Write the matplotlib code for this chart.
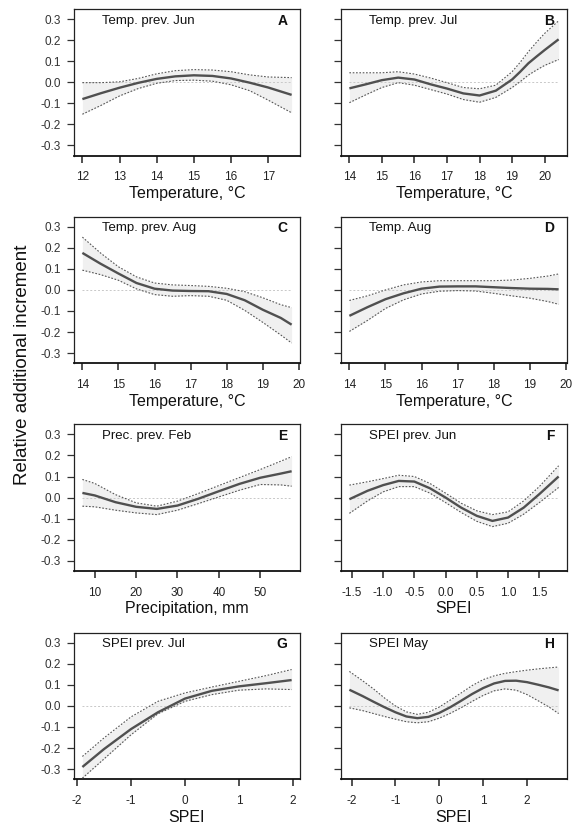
import matplotlib
matplotlib.use("Agg")
import matplotlib.pyplot as plt

plt.rcParams['font.family'] = ['Liberation Sans', 'DejaVu Sans']
plt.rcParams['axes.unicode_minus'] = False

# ---------------- data ----------------
a_x = [12, 12.5, 13, 13.5, 14, 14.5, 15, 15.5, 16, 16.5, 17, 17.63]
a_fit = [-0.080, -0.052, -0.026, -0.003, 0.016, 0.028, 0.033, 0.030, 0.018, -0.002, -0.025, -0.060]
a_up = [-0.002, -0.002, 0.002, 0.018, 0.040, 0.055, 0.060, 0.058, 0.050, 0.035, 0.025, 0.022]
a_lo = [-0.152, -0.110, -0.065, -0.030, -0.005, 0.008, 0.010, 0.005, -0.012, -0.040, -0.085, -0.145]

b_x = [14, 14.5, 15, 15.5, 16, 16.5, 17, 17.5, 18, 18.5, 19, 19.25, 19.5, 19.75, 20, 20.43]
b_fit = [-0.029, -0.010, 0.010, 0.022, 0.013, -0.010, -0.030, -0.053, -0.063, -0.040, 0.013, 0.050, 0.090, 0.122, 0.153, 0.204]
b_up = [0.045, 0.045, 0.045, 0.050, 0.039, 0.020, -0.002, -0.025, -0.031, -0.014, 0.050, 0.095, 0.145, 0.190, 0.232, 0.292]
b_lo = [-0.097, -0.060, -0.025, -0.002, -0.014, -0.035, -0.056, -0.082, -0.095, -0.072, -0.025, 0.003, 0.034, 0.058, 0.080, 0.108]

c_x = [14, 14.5, 15, 15.5, 16, 16.5, 17, 17.5, 18, 18.5, 19, 19.5, 19.8]
c_fit = [0.176, 0.125, 0.078, 0.033, 0.006, -0.003, -0.005, -0.006, -0.019, -0.049, -0.094, -0.133, -0.165]
c_up = [0.251, 0.176, 0.110, 0.062, 0.033, 0.024, 0.021, 0.017, 0.008, -0.008, -0.037, -0.070, -0.084]
c_lo = [0.094, 0.073, 0.046, 0.005, -0.022, -0.030, -0.027, -0.030, -0.049, -0.097, -0.154, -0.214, -0.252]

d_x = [14, 14.5, 15, 15.5, 16, 16.5, 17, 17.5, 18, 18.5, 19, 19.5, 19.8]
d_fit = [-0.123, -0.082, -0.044, -0.016, 0.006, 0.016, 0.017, 0.017, 0.013, 0.009, 0.006, 0.005, 0.003]
d_up = [-0.050, -0.028, 0.000, 0.024, 0.038, 0.044, 0.044, 0.044, 0.044, 0.047, 0.055, 0.066, 0.076]
d_lo = [-0.197, -0.145, -0.088, -0.047, -0.019, -0.006, -0.003, -0.005, -0.016, -0.028, -0.039, -0.055, -0.068]

e_x = [7, 10, 15, 20, 25, 30, 35, 40, 45, 50, 55, 57.6]
e_fit = [0.022, 0.010, -0.022, -0.044, -0.054, -0.038, -0.006, 0.030, 0.065, 0.094, 0.114, 0.125]
e_up = [0.086, 0.067, 0.014, -0.025, -0.041, -0.017, 0.019, 0.057, 0.095, 0.133, 0.173, 0.194]
e_lo = [-0.041, -0.044, -0.060, -0.073, -0.081, -0.060, -0.029, 0.003, 0.035, 0.062, 0.060, 0.054]

f_x = [-1.54, -1.25, -1.0, -0.75, -0.5, -0.25, 0.0, 0.25, 0.5, 0.75, 1.0, 1.25, 1.5, 1.81]
f_fit = [-0.008, 0.032, 0.059, 0.079, 0.076, 0.044, 0.000, -0.048, -0.087, -0.111, -0.095, -0.048, 0.016, 0.100]
f_up = [0.059, 0.075, 0.090, 0.106, 0.100, 0.067, 0.021, -0.027, -0.063, -0.081, -0.068, -0.016, 0.052, 0.151]
f_lo = [-0.075, -0.016, 0.027, 0.052, 0.052, 0.021, -0.024, -0.071, -0.113, -0.138, -0.122, -0.079, -0.024, 0.048]

g_x = [-1.9, -1.5, -1.0, -0.5, 0.0, 0.5, 1.0, 1.5, 1.975]
g_fit = [-0.290, -0.205, -0.110, -0.030, 0.035, 0.072, 0.093, 0.108, 0.123]
g_up = [-0.240, -0.152, -0.052, 0.022, 0.062, 0.090, 0.117, 0.144, 0.173]
g_lo = [-0.343, -0.252, -0.137, -0.037, 0.022, 0.054, 0.075, 0.081, 0.078]

h_x = [-2.05, -1.75, -1.5, -1.25, -1.0, -0.75, -0.5, -0.25, 0.0, 0.25, 0.5, 0.75,
       1.0, 1.25, 1.5, 1.75, 2.0, 2.25, 2.5, 2.72]
h_fit = [0.077, 0.047, 0.020, -0.006, -0.030, -0.050, -0.058, -0.052, -0.033, -0.006, 0.025, 0.057,
         0.085, 0.107, 0.119, 0.120, 0.113, 0.101, 0.088, 0.074]
h_up = [0.164, 0.120, 0.081, 0.038, 0.000, -0.028, -0.040, -0.030, -0.005, 0.028, 0.062, 0.097,
        0.125, 0.143, 0.155, 0.163, 0.170, 0.176, 0.181, 0.185]
h_lo = [-0.009, -0.022, -0.036, -0.050, -0.063, -0.075, -0.080, -0.075, -0.058, -0.035, -0.008, 0.022,
        0.050, 0.072, 0.081, 0.075, 0.054, 0.025, -0.005, -0.036]

titles = ["Temp. prev. Jun", "Temp. prev. Jul", "Temp. prev. Aug", "Temp. Aug",
          "Prec. prev. Feb", "SPEI prev. Jun", "SPEI prev. Jul", "SPEI May"]
letters = ["A", "B", "C", "D", "E", "F", "G", "H"]
xlabels = ["Temperature, °C", "Temperature, °C", "Temperature, °C", "Temperature, °C",
           "Precipitation, mm", "SPEI", "SPEI", "SPEI"]
xticks = [[12, 13, 14, 15, 16, 17], [14, 15, 16, 17, 18, 19, 20],
          [14, 15, 16, 17, 18, 19, 20], [14, 15, 16, 17, 18, 19, 20],
          [10, 20, 30, 40, 50], [-1.5, -1.0, -0.5, 0.0, 0.5, 1.0, 1.5],
          [-2, -1, 0, 1, 2], [-2, -1, 0, 1, 2]]
xticklabels = [["12", "13", "14", "15", "16", "17"], ["14", "15", "16", "17", "18", "19", "20"],
               ["14", "15", "16", "17", "18", "19", "20"], ["14", "15", "16", "17", "18", "19", "20"],
               ["10", "20", "30", "40", "50"], ["-1.5", "-1.0", "-0.5", "0.0", "0.5", "1.0", "1.5"],
               ["-2", "-1", "0", "1", "2"], ["-2", "-1", "0", "1", "2"]]
yticks = [-0.3, -0.2, -0.1, 0.0, 0.1, 0.2, 0.3]
yticklabels = ["-0.3", "-0.2", "-0.1", "0.0", "0.1", "0.2", "0.3"]
ylabel = "Relative additional increment"

series = [(a_x, a_fit, a_up, a_lo), (b_x, b_fit, b_up, b_lo), (c_x, c_fit, c_up, c_lo),
          (d_x, d_fit, d_up, d_lo), (e_x, e_fit, e_up, e_lo), (f_x, f_fit, f_up, f_lo),
          (g_x, g_fit, g_up, g_lo), (h_x, h_fit, h_up, h_lo)]

# ---------------- layout ----------------
W, H = 575, 825
fig = plt.figure(figsize=(W / 100, H / 100), dpi=100)
col_left = [74, 341]
row_top = [9, 216.7, 424.3, 632.7]
aw, ah = 226, 146.5

for i, (x, fit, up, lo) in enumerate(series):
    r, c = divmod(i, 2)
    l = col_left[c]
    t = row_top[r]
    ax = fig.add_axes([l / W, 1 - (t + ah) / H, aw / W, ah / H])
    span = x[-1] - x[0]
    ax.set_xlim(x[0] - 0.04 * span, x[-1] + 0.04 * span)
    ax.set_ylim(-0.348, 0.348)
    ax.fill_between(x, lo, up, color="#f0f0f0", lw=0, zorder=1)
    ax.plot([x[0], x[-1]], [0, 0], color="#c8c8c8", lw=0.7, ls=(0, (2, 2)), zorder=2)
    ax.plot(x, up, color="#555555", lw=0.8, ls=(0, (1.5, 1.5)), zorder=3)
    ax.plot(x, lo, color="#555555", lw=0.8, ls=(0, (1.5, 1.5)), zorder=3)
    ax.plot(x, fit, color="#505050", lw=1.7, solid_capstyle="butt",
            solid_joinstyle="round", zorder=4)

    ax.set_xticks(xticks[i])
    ax.set_xticklabels(xticklabels[i])
    ax.set_yticks(yticks)
    if c == 0:
        ax.set_yticklabels(yticklabels)
    else:
        ax.set_yticklabels([])
    ax.tick_params(axis="x", direction="out", length=5, width=1.1, pad=6.5,
                   labelsize=8.5, colors="#222222")
    ax.tick_params(axis="y", direction="out", length=5, width=0.9, pad=4.5,
                   labelsize=8.5, colors="#333333")
    for s in ["top", "left", "right"]:
        ax.spines[s].set_linewidth(0.9)
        ax.spines[s].set_color("#222222")
    ax.spines["bottom"].set_linewidth(1.3)
    ax.spines["bottom"].set_color("#111111")

    ax.text(0.122, 0.92, titles[i], transform=ax.transAxes, ha="left", va="center",
            fontsize=9.5, color="#111111")
    ax.text(0.944, 0.92, letters[i], transform=ax.transAxes, ha="right", va="center",
            fontsize=10, fontweight="bold", color="#111111")
    ax.text(0.5, -38 / ah, xlabels[i], transform=ax.transAxes, ha="center", va="center",
            fontsize=11.5, color="#111111")

fig.text(22.5 / W, 1 - 365 / H, ylabel, rotation=90, ha="center", va="center",
         fontsize=13.5, color="#111111")

fig.savefig("out.png", dpi=100, facecolor="white")
